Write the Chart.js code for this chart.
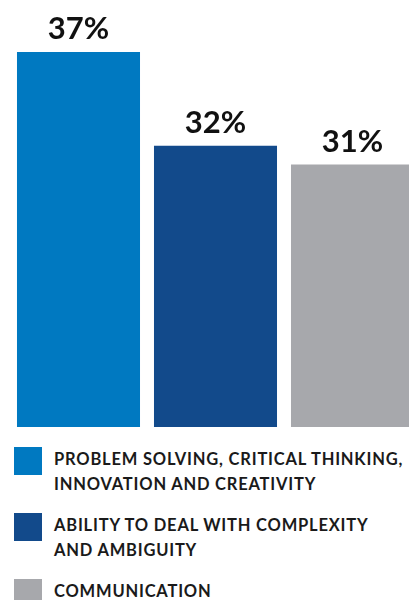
<!DOCTYPE html>
<html>
<head>
<meta charset="utf-8">
<script src="https://cdn.jsdelivr.net/npm/chart.js@4/dist/chart.umd.min.js"></script>
<style>
  html, body { margin: 0; padding: 0; background: #fff; overflow: hidden; }
  body { width: 409px; height: 600px; position: relative; font-family: Lato, "Open Sans", sans-serif; }
  #chart-box { position: absolute; left: 0; top: 0; width: 421px; height: 427px; }
  #legend { position: absolute; left: 14px; top: 447px; margin: 0; padding: 0; list-style: none; }
  #legend li { display: flex; align-items: flex-start; margin-bottom: 16px; }
  #legend .swatch { width: 28px; height: 28px; flex: none; }
  #legend .text { margin-left: 12px; font-size: 16.5px; font-weight: 700; line-height: 25px; color: #1a1a1a; letter-spacing: 0.8px; white-space: nowrap; }
</style>
</head>
<body>
<div id="chart-box"><canvas id="skills-chart"></canvas></div>
<ul id="legend"></ul>
<script>
  const categories = [
    ["PROBLEM SOLVING, CRITICAL THINKING,", "INNOVATION AND CREATIVITY"],
    ["ABILITY TO DEAL WITH COMPLEXITY", "AND AMBIGUITY"],
    ["COMMUNICATION"],
  ];
  const shares = [37, 32, 31];
  const colors = ["#0079c1", "#124a8b", "#a7a8ac"];

  const valueLabels = {
    id: "valueLabels",
    afterDatasetsDraw(chart) {
      const { ctx } = chart;
      const meta = chart.getDatasetMeta(0);
      ctx.save();
      ctx.font = "700 31px Lato, sans-serif";
      ctx.fillStyle = "#111";
      ctx.textAlign = "center";
      ctx.textBaseline = "alphabetic";
      meta.data.forEach((bar, i) => {
        ctx.fillText(shares[i] + "%", bar.x, bar.y - 13);
      });
      ctx.restore();
    },
  };

  new Chart(document.getElementById("skills-chart"), {
    type: "bar",
    data: {
      labels: categories.map((c) => c.join(" ")),
      datasets: [
        {
          data: shares,
          backgroundColor: colors,
          borderWidth: 0,
          categoryPercentage: 1,
          barPercentage: 0.898,
        },
      ],
    },
    options: {
      responsive: true,
      maintainAspectRatio: false,
      animation: false,
      layout: { padding: { top: 52, left: 10, right: 0, bottom: 0 } },
      scales: {
        x: { display: false },
        y: { display: false, min: 17, max: 37 },
      },
      plugins: {
        legend: { display: false },
        tooltip: { enabled: false },
      },
    },
    plugins: [valueLabels],
  });

  const legend = document.getElementById("legend");
  legend.innerHTML = categories
    .map(
      (lines, i) => `
      <li>
        <span class="swatch" style="background:${colors[i]}"></span>
        <span class="text">${lines.join("<br>")}</span>
      </li>`
    )
    .join("");
</script>
</body>
</html>
